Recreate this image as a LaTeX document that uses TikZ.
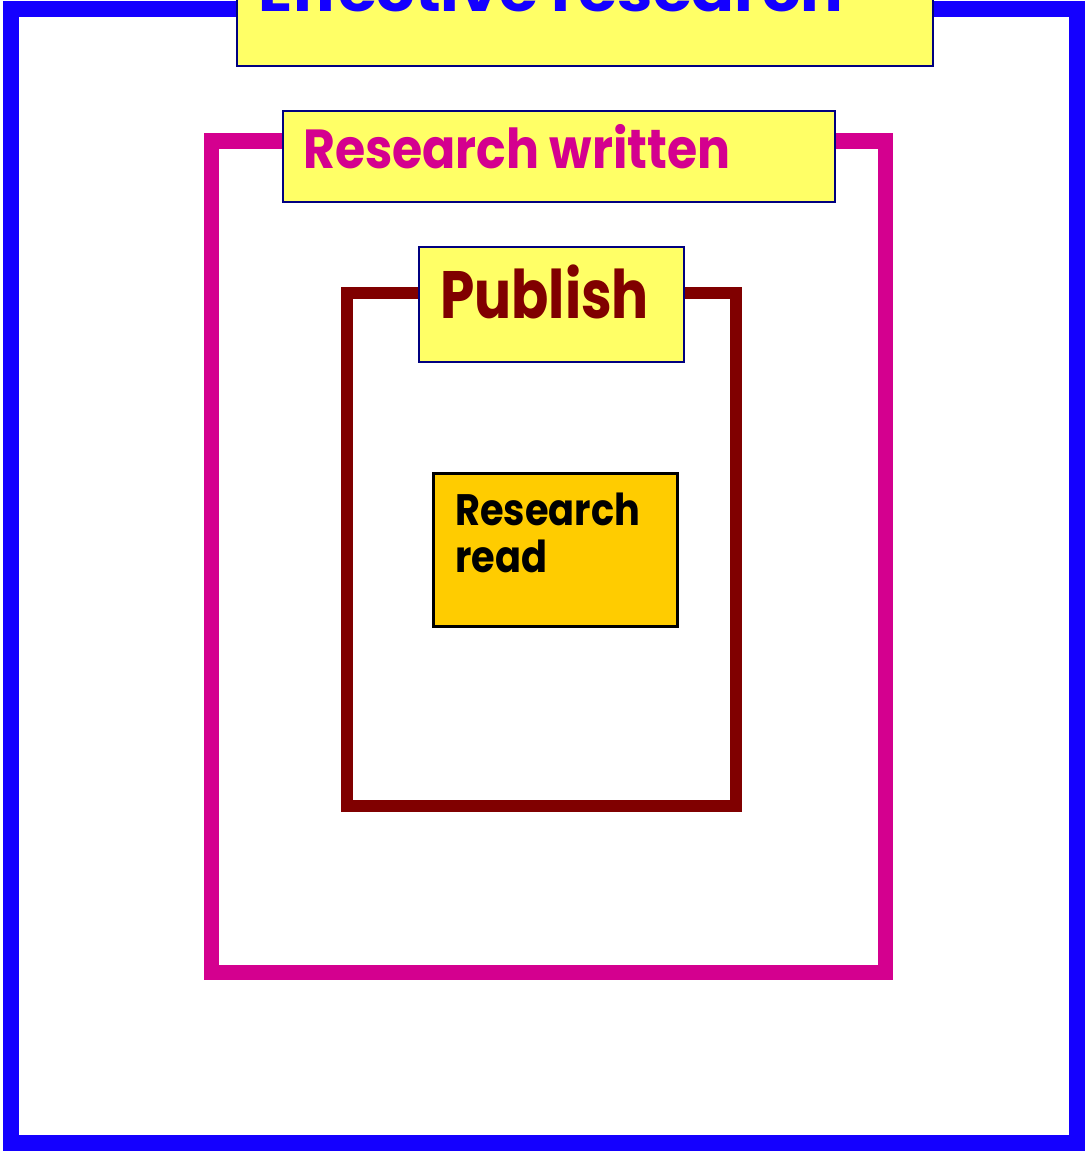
\documentclass[tikz,border=0pt]{standalone}
\usepackage{fontspec}
\setmainfont{Poppins}
\definecolor{frameblue}{HTML}{1400FF}
\definecolor{framepink}{HTML}{D4008F}
\definecolor{framered}{HTML}{800000}
\definecolor{labelyellow}{HTML}{FFFF66}
\definecolor{labelnavy}{HTML}{000080}
\definecolor{cardgold}{HTML}{FFCC00}
\begin{document}
\begin{tikzpicture}[x=1pt,y=-1pt,
  frame/.style={rectangle,draw,inner sep=0pt,outer sep=0pt,fill=white},
  tag/.style={rectangle,draw=labelnavy,fill=labelyellow,line width=1.5pt,inner sep=0pt,outer sep=0pt},
  caption/.style={anchor=base west,inner sep=0pt,font=\bfseries}]
\useasboundingbox (0,0) rectangle (1087,1153);
\clip (0,0) rectangle (1087,1153);
\fill[white] (0,0) rectangle (1087,1153);
% outer frame and its title tag
\node[frame,draw=frameblue,line width=16pt,minimum width=1066pt,minimum height=1134pt] (outer) at (544,576) {};
\node[tag,minimum width=696pt,minimum height=120pt] (outertag) at (585,6) {};
\node[caption,text=frameblue,font=\fontsize{56}{56}\selectfont\bfseries] (outertext) at (258,12) {\scalebox{1.13}[1]{Effective research}};
% middle frame
\node[frame,draw=framepink,line width=15pt,minimum width=674pt,minimum height=831pt] (middle) at (548,556.5) {};
\node[tag,minimum width=552pt,minimum height=91pt] (middletag) at (559,156.5) {};
\node[caption,text=framepink,font=\fontsize{55}{55}\selectfont\bfseries] (middletext) at (303,168) {\scalebox{0.89}[1]{Research written}};
% inner frame
\node[frame,draw=framered,line width=12pt,minimum width=389pt,minimum height=513pt] (inner) at (541.5,549.5) {};
\node[tag,minimum width=265pt,minimum height=115pt] (innertag) at (551.5,304.5) {};
\node[caption,text=framered,font=\fontsize{67}{67}\selectfont\bfseries] (innertext) at (440,318) {\scalebox{0.82}[1]{Publish}};
% centre card
\node[rectangle,draw=black,fill=cardgold,line width=3pt,minimum width=244pt,minimum height=153pt,inner sep=0pt] (card) at (555,549.5) {};
\node[caption,text=black,font=\fontsize{44}{47}\selectfont\bfseries] (cardtext) at (455,572) {\scalebox{0.87}[1]{\begin{tabular}[b]{@{}l@{}}Research\\read\end{tabular}}};
\end{tikzpicture}
\end{document}
